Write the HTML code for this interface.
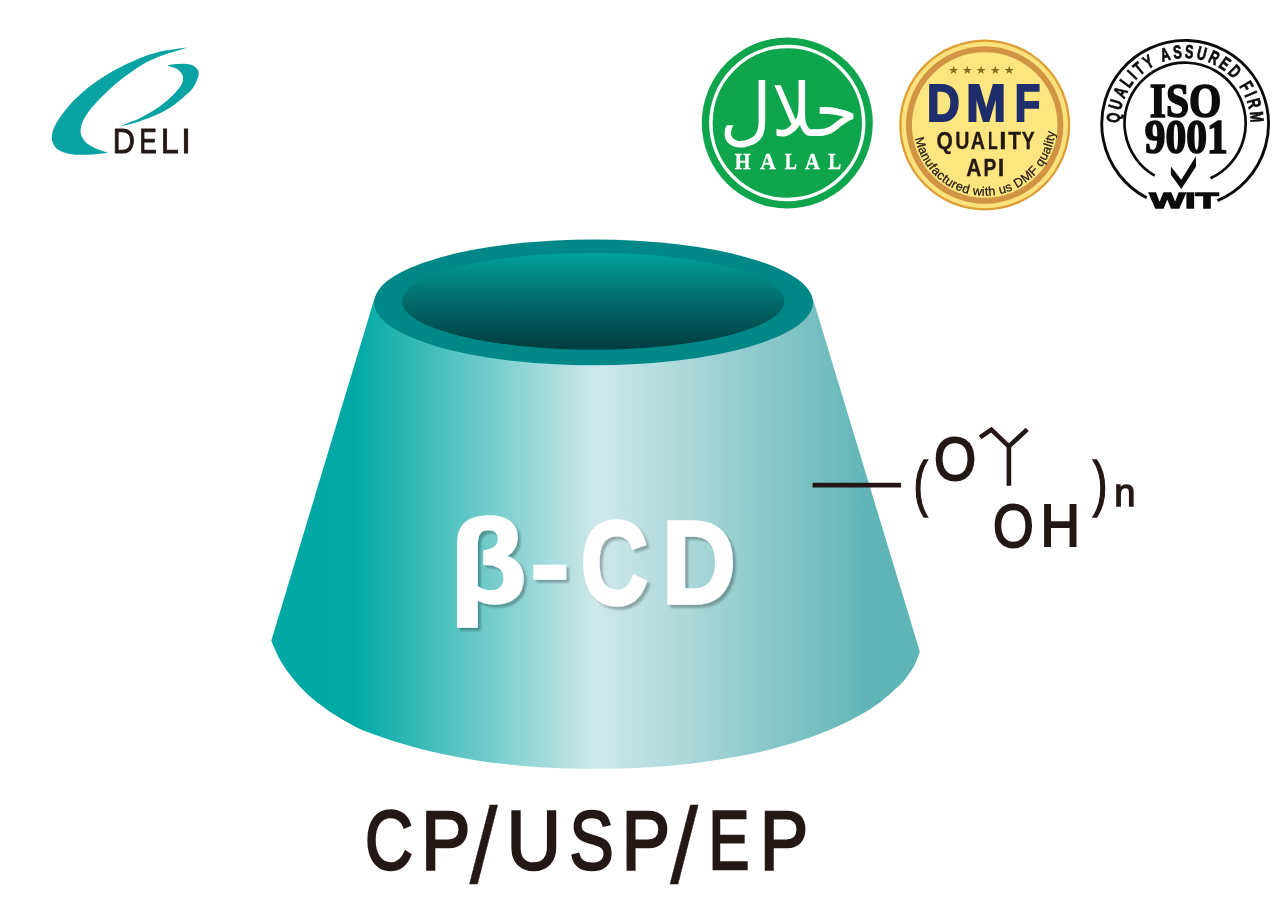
<!DOCTYPE html>
<html lang="en">
<head>
<meta charset="utf-8">
<title>β-CD CP/USP/EP</title>
<style>
html,body{margin:0;padding:0;background:#fff;}
body{width:1288px;height:915px;overflow:hidden;position:relative;font-family:"Liberation Sans",sans-serif;}
svg{display:block;position:absolute;left:0;top:0;will-change:transform;}
text{font-family:"Liberation Sans",sans-serif;fill:#231815;}
.serif{font-family:"Liberation Serif",serif;}
.dj{font-family:"DejaVu Sans",sans-serif;}
</style>
</head>
<body>
<svg width="1288" height="915" viewBox="0 0 1288 915">
<defs>
<linearGradient id="gBody" gradientUnits="userSpaceOnUse" x1="271" y1="0" x2="920" y2="0">
<stop offset="0" stop-color="#00a8a4"/>
<stop offset="0.129" stop-color="#00a9a5"/>
<stop offset="0.502" stop-color="#cfe8ea"/>
<stop offset="0.93" stop-color="#5fb4b6"/>
<stop offset="1" stop-color="#5fb4b6"/>
</linearGradient>
<linearGradient id="gInner" gradientUnits="userSpaceOnUse" x1="0" y1="253" x2="0" y2="350">
<stop offset="0" stop-color="#00a29d"/>
<stop offset="0.5" stop-color="#006a6b"/>
<stop offset="1" stop-color="#003c3e"/>
</linearGradient>
<filter id="sh" filterUnits="userSpaceOnUse" x="440" y="500" width="320" height="150">
<feGaussianBlur in="SourceAlpha" stdDeviation="1.2"/>
<feOffset dx="3.2" dy="3.2"/>
<feComponentTransfer><feFuncA type="linear" slope="0.27"/></feComponentTransfer>
<feMerge><feMergeNode/><feMergeNode in="SourceGraphic"/></feMerge>
</filter>
</defs>

<!-- LOGO -->
<g id="logo">
<path fill="#08a3a2" d="M187.3 47.4 C185.4 47.6 179.7 48.4 176.0 48.9 C172.3 49.4 168.0 50.0 165.0 50.6 C162.0 51.2 161.6 51.3 158.1 52.3 C154.6 53.3 149.2 54.5 144.2 56.4 C139.1 58.3 133.3 60.9 127.8 63.5 C122.3 66.1 116.0 69.3 111.4 71.9 C106.8 74.5 102.8 77.2 100.1 79.0 C97.4 80.8 96.8 81.2 95.0 82.5 C93.2 83.8 91.9 84.6 89.5 86.5 C87.1 88.4 83.6 91.4 80.7 94.0 C77.8 96.6 74.8 99.3 72.3 102.0 C69.8 104.7 67.6 107.3 65.5 110.0 C63.4 112.7 61.3 115.3 59.5 118.0 C57.7 120.7 56.0 123.3 54.8 126.0 C53.6 128.7 52.5 131.3 52.1 134.0 C51.7 136.7 51.9 139.8 52.5 142.0 C53.1 144.2 54.2 146.0 55.5 147.5 C56.8 149.0 58.7 150.1 60.5 151.0 C62.3 151.9 64.3 152.6 66.5 153.2 C68.7 153.8 70.8 154.1 73.5 154.4 C76.2 154.7 79.5 154.8 82.7 154.8 C85.9 154.8 89.2 154.6 92.5 154.4 C95.8 154.2 99.7 153.8 102.4 153.5 C105.1 153.2 107.5 152.8 108.5 152.6 C107.7 152.4 105.2 151.7 103.5 151.2 C101.8 150.7 100.3 150.3 98.5 149.6 C96.7 148.9 94.6 148.0 92.8 147.0 C91.0 146.0 89.0 145.0 87.5 143.8 C86.0 142.6 85.1 141.6 84.0 140.0 C82.9 138.4 81.4 136.3 80.9 134.0 C80.4 131.7 80.6 128.7 81.2 126.0 C81.8 123.3 83.1 120.7 84.6 118.0 C86.0 115.3 87.9 112.7 89.9 110.0 C91.9 107.3 94.5 104.5 96.8 102.0 C99.1 99.5 100.3 98.2 103.7 95.0 C107.1 91.8 112.0 86.8 116.9 82.7 C121.8 78.6 127.9 74.1 133.3 70.4 C138.8 66.8 144.3 63.4 149.6 60.8 C154.9 58.2 160.2 56.4 165.0 54.6 C169.8 52.8 174.9 51.4 178.6 50.2 C182.3 49.0 185.9 47.9 187.3 47.4 Z"/>
<path fill="#08a3a2" d="M167.2 65.4 C168.3 65.2 171.3 64.6 173.8 64.3 C176.3 64.0 179.3 63.8 182.0 63.8 C184.7 63.8 188.0 64.1 190.2 64.6 C192.4 65.1 193.8 66.0 195.1 67.0 C196.4 68.0 197.6 69.3 198.2 70.5 C198.8 71.7 198.7 73.2 198.6 74.4 C198.5 75.7 198.2 76.6 197.7 78.0 C197.2 79.4 196.7 81.2 195.8 83.0 C194.9 84.8 193.9 86.7 192.5 88.5 C191.1 90.3 189.9 91.5 187.6 93.6 C185.3 95.7 181.9 98.8 178.8 101.3 C175.7 103.8 172.4 106.2 169.2 108.3 C166.0 110.3 162.7 112.0 159.5 113.6 C156.3 115.1 153.4 116.3 150.0 117.6 C146.6 118.9 142.5 120.5 139.3 121.5 C136.2 122.5 134.2 123.2 131.1 123.9 C128.0 124.7 122.7 125.7 121.0 126.0 C122.7 125.3 127.9 123.1 131.1 121.8 C134.3 120.5 136.5 120.0 140.3 118.0 C144.2 116.0 150.0 112.7 154.2 110.0 C158.4 107.3 162.1 104.7 165.4 102.0 C168.7 99.3 171.5 96.7 174.0 94.0 C176.5 91.3 179.1 88.3 180.6 86.0 C182.1 83.7 182.7 81.8 183.0 80.0 C183.3 78.2 182.9 76.4 182.4 75.0 C181.9 73.6 181.2 72.6 180.0 71.5 C178.8 70.4 177.6 69.3 175.5 68.3 C173.4 67.3 168.6 65.9 167.2 65.4 Z"/>
<text id="deli" aria-label="DELI" font-size="34.45" style="stroke:#231815;stroke-width:1.0px"><tspan x="112.78" y="153.20" textLength="22.19" lengthAdjust="spacingAndGlyphs">D</tspan><tspan x="139.38" y="153.20" textLength="17.23" lengthAdjust="spacingAndGlyphs">E</tspan><tspan x="160.90" y="153.20" textLength="17.66" lengthAdjust="spacingAndGlyphs">L</tspan><tspan x="181.33" y="153.20" textLength="9.53" lengthAdjust="spacingAndGlyphs">I</tspan></text>
</g>

<!-- HALAL BADGE -->
<g id="halal">
<circle cx="787.3" cy="123" r="85.5" fill="#0fa54d"/>
<circle cx="787.3" cy="123" r="76.4" fill="none" stroke="#fff" stroke-width="3.5"/>
<text id="halalAr" class="dj" font-size="100" transform="translate(719.5 136) scale(0.7167 0.7396)" style="fill:#fff" lang="ar">حلال</text>
<text id="halalEn" aria-label="HALAL" class="serif" font-size="24" font-weight="700" style="fill:#fff;stroke:#fff;stroke-width:0.4px"><tspan x="734.75" y="168.50" textLength="15.78" lengthAdjust="spacingAndGlyphs" font-size="23.06">H</tspan><tspan x="760.19" y="168.50" textLength="15.47" lengthAdjust="spacingAndGlyphs" font-size="22.87">A</tspan><tspan x="784.69" y="168.50" textLength="12.18" lengthAdjust="spacingAndGlyphs" font-size="23.06">L</tspan><tspan x="804.90" y="168.50" textLength="14.85" lengthAdjust="spacingAndGlyphs" font-size="22.87">A</tspan><tspan x="828.27" y="168.50" textLength="12.84" lengthAdjust="spacingAndGlyphs" font-size="23.06">L</tspan></text>
</g>

<!-- DMF BADGE -->
<g id="dmf">
<circle cx="984.7" cy="125" r="85.5" fill="#dd9e36"/>
<circle cx="984.7" cy="125" r="83.2" fill="#fbe27c"/>
<circle cx="984.7" cy="125" r="78.7" fill="#d19444"/>
<circle cx="984.7" cy="125" r="72.8" fill="#fde57f"/>
<text id="stars" aria-label="★★★★★" class="dj" font-size="11.7" style="fill:#8a6a1f"><tspan x="947.99" y="74.15" textLength="11.23" lengthAdjust="spacingAndGlyphs" font-size="11.41">★</tspan><tspan x="962.13" y="74.15" textLength="10.64" lengthAdjust="spacingAndGlyphs" font-size="11.41">★</tspan><tspan x="975.83" y="74.15" textLength="10.64" lengthAdjust="spacingAndGlyphs" font-size="11.41">★</tspan><tspan x="989.93" y="74.15" textLength="10.64" lengthAdjust="spacingAndGlyphs" font-size="11.41">★</tspan><tspan x="1003.81" y="74.15" textLength="10.88" lengthAdjust="spacingAndGlyphs" font-size="11.41">★</tspan></text>
<text id="dmfT" aria-label="DMF" font-size="51.45" font-weight="700" style="fill:#1e2d6b;stroke:#1e2d6b;stroke-width:2.0px"><tspan x="927.07" y="120.70" textLength="32.74" lengthAdjust="spacingAndGlyphs">D</tspan><tspan x="966.31" y="120.70" textLength="39.67" lengthAdjust="spacingAndGlyphs">M</tspan><tspan x="1014.70" y="120.70" textLength="25.53" lengthAdjust="spacingAndGlyphs">F</tspan></text>
<text id="qual" aria-label="QUALITY" font-size="23.55" font-weight="700" style="stroke:#231815;stroke-width:0.3px"><tspan x="936.39" y="148.55" textLength="16.34" lengthAdjust="spacingAndGlyphs">Q</tspan><tspan x="955.17" y="148.55" textLength="14.18" lengthAdjust="spacingAndGlyphs">U</tspan><tspan x="970.76" y="148.55" textLength="14.21" lengthAdjust="spacingAndGlyphs">A</tspan><tspan x="987.89" y="148.55" textLength="9.64" lengthAdjust="spacingAndGlyphs">L</tspan><tspan x="999.39" y="148.55" textLength="7.33" lengthAdjust="spacingAndGlyphs">I</tspan><tspan x="1008.32" y="148.55" textLength="12.76" lengthAdjust="spacingAndGlyphs">T</tspan><tspan x="1021.72" y="148.55" textLength="12.94" lengthAdjust="spacingAndGlyphs">Y</tspan></text>
<text id="api" aria-label="API" font-size="23.11" font-weight="700" style="stroke:#231815;stroke-width:0.3px"><tspan x="966.13" y="175.55" textLength="15.18" lengthAdjust="spacingAndGlyphs">A</tspan><tspan x="983.46" y="175.55" textLength="12.85" lengthAdjust="spacingAndGlyphs">P</tspan><tspan x="997.67" y="175.55" textLength="6.56" lengthAdjust="spacingAndGlyphs">I</tspan></text>
<path id="dmfArc" d="M913.9 125 A70.8 70.8 0 0 0 1055.5 125" fill="none"/>
<text id="manu" font-size="12.6" style="fill:#231815;stroke:#231815;stroke-width:0.25px"><textPath href="#dmfArc" startOffset="13.3" textLength="201.8" lengthAdjust="spacing">Manufactured with us DMF quality</textPath></text>
</g>

<!-- ISO BADGE -->
<g id="iso">
<path d="M1146.7 197.8 A83.4 83.4 0 1 1 1217.4 200.7" fill="none" stroke="#0d0a0a" stroke-width="2.9"/>
<path d="M1154.7 175.7 A60.6 60.6 0 1 1 1210.5 178.3" fill="none" stroke="#0d0a0a" stroke-width="2.7"/>
<path id="isoArc" d="M1120.6 134.9 A65.5 65.5 0 1 1 1249.6 134.9" fill="none"/>
<text id="isoRing" font-size="18.6" font-weight="700" letter-spacing="3.55" style="fill:#0d0a0a;stroke:#0d0a0a;stroke-width:0.7px"><textPath href="#isoArc" startOffset="115.1" text-anchor="middle" textLength="206.5" lengthAdjust="spacingAndGlyphs">QUALITY ASSURED FIRM</textPath></text>
<text id="isoT" class="serif" font-size="48.6" font-weight="700" transform="translate(1149.8 117.0) scale(0.855 1)" style="fill:#0d0a0a;stroke:#0d0a0a;stroke-width:1.7px">ISO</text>
<text id="isoN" class="serif" font-size="47.6" font-weight="700" transform="translate(1144.8 152.6) scale(0.871 1)" style="fill:#0d0a0a;stroke:#0d0a0a;stroke-width:1.7px">9001</text>
<polygon points="1170.9,166.5 1170.9,174.8 1181.3,189.0 1196.0,166.4 1195.9,156.2 1181.3,179.8" fill="#0d0a0a"/>
<text id="wit" font-size="21.2" font-weight="700" transform="translate(1149.5 208.2) scale(1.78 1)" style="fill:#0d0a0a;stroke:#0d0a0a;stroke-width:1.3px">WIT</text>
</g>

<!-- CUP -->
<g id="cup">
<path id="cupBody" fill="url(#gBody)" d="M374.3 299 L271.3 640.8 C272.7 643.9 276.7 653.8 279.7 659.3 C282.7 664.8 286.2 669.7 289.5 674.1 C292.8 678.5 296.0 682.3 299.3 685.9 C302.6 689.5 305.8 692.6 309.2 695.7 C312.6 698.8 316.5 701.9 320.0 704.6 C323.5 707.3 325.8 709.0 330.0 711.7 C334.2 714.4 340.0 718.1 345.0 721.0 C350.0 723.9 354.2 726.4 360.0 729.0 C365.8 731.6 373.3 734.1 380.0 736.4 C386.7 738.8 393.3 741.1 400.0 743.1 C406.7 745.2 413.3 747.1 420.0 748.8 C426.7 750.6 433.3 752.2 440.0 753.6 C446.7 755.1 453.3 756.4 460.0 757.6 C466.7 758.9 473.3 759.9 480.0 760.9 C486.7 761.9 493.3 762.8 500.0 763.6 C506.7 764.4 513.3 765.1 520.0 765.7 C526.7 766.2 533.3 766.7 540.0 767.2 C546.7 767.6 553.3 767.9 560.0 768.2 C566.7 768.4 573.3 768.6 580.0 768.7 C586.7 768.8 593.3 768.9 600.0 768.8 C606.7 768.8 613.3 768.7 620.0 768.5 C626.7 768.3 633.3 768.0 640.0 767.7 C646.7 767.4 653.3 766.9 660.0 766.5 C666.7 766.0 673.3 765.4 680.0 764.7 C686.7 764.1 693.3 763.3 700.0 762.5 C706.7 761.6 713.3 760.7 720.0 759.6 C726.7 758.5 733.3 757.4 740.0 756.1 C746.7 754.8 753.3 753.4 760.0 751.9 C766.7 750.3 773.3 748.7 780.0 746.8 C786.7 745.0 793.3 743.0 800.0 740.8 C806.7 738.6 813.3 736.3 820.0 733.7 C826.7 731.1 833.3 728.4 840.0 725.3 C846.7 722.2 853.3 718.9 860.0 715.0 C866.7 711.2 873.3 707.3 880.0 702.2 C886.7 697.2 895.0 689.7 900.0 684.8 C905.0 679.8 907.3 676.2 910.0 672.4 C912.7 668.6 914.4 665.4 916.0 661.9 C917.6 658.5 919.2 653.5 919.9 651.8 L813 299 Z"/>
<ellipse cx="593.6" cy="302.4" rx="219.4" ry="62.9" fill="#008889"/>
<ellipse cx="593.2" cy="301.25" rx="191.3" ry="48.35" fill="url(#gInner)"/>
</g>

<!-- FORMULA -->
<g id="formula" stroke-linecap="butt">
<line x1="812.6" y1="485.2" x2="901.1" y2="485.2" stroke="#231815" stroke-width="4.8"/>
<polyline points="980.1,437.3 991.3,429.6 1008.9,446.4 1027.2,429.4" fill="none" stroke="#231815" stroke-width="4.6"/>
<line x1="1008.9" y1="446.4" x2="1008.9" y2="485.8" stroke="#231815" stroke-width="4.6"/>
<text id="fP1" font-size="60" style="stroke:#231815;stroke-width:1.6px"><tspan x="913.43" y="504.37" textLength="14.32" lengthAdjust="spacingAndGlyphs" font-size="61.50">(</tspan></text>
<text id="fO" font-size="60" style="stroke:#231815;stroke-width:2.0px"><tspan x="933.93" y="479.61" textLength="42.16" lengthAdjust="spacingAndGlyphs" font-size="60.31">O</tspan></text>
<text id="fOH" aria-label="OH" font-size="60" style="stroke:#231815;stroke-width:2.0px"><tspan x="993.12" y="546.91" textLength="40.68" lengthAdjust="spacingAndGlyphs" font-size="60.88">O</tspan><tspan x="1040.51" y="546.00" textLength="39.56" lengthAdjust="spacingAndGlyphs" font-size="59.30">H</tspan></text>
<text id="fP2" font-size="60" style="stroke:#231815;stroke-width:1.6px"><tspan x="1092.84" y="504.37" textLength="14.70" lengthAdjust="spacingAndGlyphs" font-size="61.50">)</tspan></text>
<text id="fn" font-size="38" style="stroke:#231815;stroke-width:1.4px"><tspan x="1114.17" y="506.20" textLength="21.21" lengthAdjust="spacingAndGlyphs" font-size="38.10">n</tspan></text>
</g>

<!-- BETA-CD -->
<g id="bcd" filter="url(#sh)">
<text id="bcdT" aria-label="β-CD" font-size="118.90" font-weight="700" style="fill:#fff;stroke:#fff;stroke-width:3.5px;stroke-linejoin:miter"><tspan x="450.24" y="601.63" textLength="75.79" lengthAdjust="spacingAndGlyphs" font-size="117.69">β</tspan><tspan x="530.93" y="597.26" textLength="37.64" lengthAdjust="spacingAndGlyphs" font-size="95.69">-</tspan><tspan x="580.72" y="603.80" textLength="67.38" lengthAdjust="spacingAndGlyphs" font-size="118.08">C</tspan><tspan x="661.92" y="603.25" textLength="73.71" lengthAdjust="spacingAndGlyphs" font-size="117.01">D</tspan></text>
</g>

<!-- BOTTOM TEXT -->
<text id="cpusp" aria-label="CP/USP/EP" font-size="83.14" style="stroke:#231815;stroke-width:2.6px"><tspan x="365.02" y="868.70" textLength="48.01" lengthAdjust="spacingAndGlyphs">C</tspan><tspan x="421.36" y="868.70" textLength="49.13" lengthAdjust="spacingAndGlyphs">P</tspan><tspan x="469.50" y="883.05" textLength="28.20" lengthAdjust="spacingAndGlyphs" stroke-width="0.4" font-size="107.71">/</tspan><tspan x="506.83" y="868.70" textLength="54.05" lengthAdjust="spacingAndGlyphs">U</tspan><tspan x="569.39" y="868.70" textLength="44.14" lengthAdjust="spacingAndGlyphs">S</tspan><tspan x="621.77" y="868.70" textLength="48.25" lengthAdjust="spacingAndGlyphs">P</tspan><tspan x="670.00" y="883.05" textLength="28.20" lengthAdjust="spacingAndGlyphs" stroke-width="0.4" font-size="107.71">/</tspan><tspan x="708.38" y="868.70" textLength="40.86" lengthAdjust="spacingAndGlyphs">E</tspan><tspan x="759.88" y="868.70" textLength="48.12" lengthAdjust="spacingAndGlyphs">P</tspan></text>
</svg>
</body>
</html>
